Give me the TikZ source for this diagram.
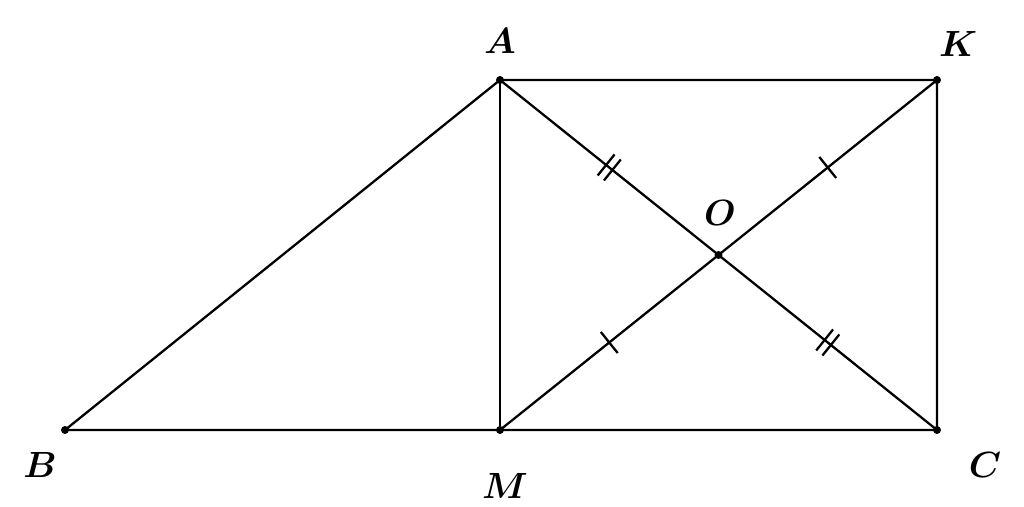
\documentclass[tikz,border=0pt]{standalone}
\usepackage{amsmath, amssymb}
\usepackage{tikz}
\usetikzlibrary{decorations.markings}
\tikzset{
  seg/.style={line width=1.3pt},
  ptlabel/.style={font=\fontsize{22}{26}\selectfont},
  onetick/.style={postaction={decorate,decoration={markings,
      mark=at position 0.5 with {\draw[seg] (0,-0.27) -- (0,0.27);}}}},
  twoticks/.style={postaction={decorate,decoration={markings,
      mark=at position 0.5 with {\draw[seg] (-0.08,-0.27) -- (-0.08,0.27);
                                 \draw[seg] (0.08,-0.27) -- (0.08,0.27);}}}}
}
\begin{document}
\begin{tikzpicture}%[scale=1.0]
\useasboundingbox (0,0) rectangle (20.48,10.14);
\coordinate (A) at (10,8.54);
\coordinate (K) at (18.74,8.54);
\coordinate (B) at (1.3,1.54);
\coordinate (M) at (10,1.54);
\coordinate (C) at (18.74,1.54);
\coordinate (O) at (14.37,5.04);
\draw[seg] (B) -- (M) -- (C) -- (K) -- (A) -- (B);
\draw[seg] (A) -- (M);
\draw[seg,twoticks] (A) -- (O);\draw[seg,twoticks] (O) -- (C);
\draw[seg,onetick] (M) -- (O);\draw[seg,onetick] (O) -- (K);
\foreach \p in {A,K,B,M,C,O} \fill (\p) circle (0.08);
\node[ptlabel] (lA) at (10,9.32) {$\boldsymbol{A}$};
\node[ptlabel] (lK) at (19.16,9.26) {$\boldsymbol{K}$};
\node[ptlabel] (lB) at (0.8,0.84) {$\boldsymbol{B}$};
\node[ptlabel] (lM) at (10.1,0.42) {$\boldsymbol{M}$};
\node[ptlabel] (lC) at (19.7,0.84) {$\boldsymbol{C}$};
\node[ptlabel] (lO) at (14.4,5.88) {$\boldsymbol{O}$};
\end{tikzpicture}
\end{document}
